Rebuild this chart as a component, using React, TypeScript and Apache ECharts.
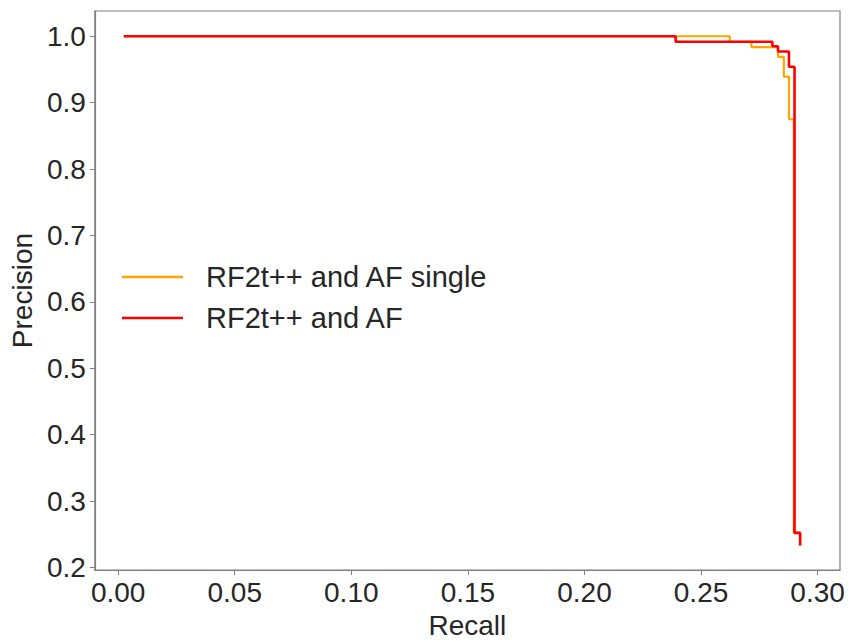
import React, { useEffect, useRef } from "react";
import * as echarts from "echarts";

// Step points (recall, precision); each point ends a horizontal run at the previous precision
const singleRecall = [0.0024, 0.2623, 0.2716, 0.283, 0.2855, 0.2877, 0.2898, 0.2925];
const singlePrecision = [1.0, 0.9917, 0.9837, 0.969, 0.9393, 0.875, 0.252, 0.233];

const combinedRecall = [0.0024, 0.2391, 0.2806, 0.283, 0.2877, 0.2901, 0.2925];
const combinedPrecision = [1.0, 0.9917, 0.985, 0.977, 0.954, 0.252, 0.233];

const xTicks = [0.0, 0.05, 0.1, 0.15, 0.2, 0.25, 0.3];
const yTicks = [0.2, 0.3, 0.4, 0.5, 0.6, 0.7, 0.8, 0.9, 1.0];

const seriesNames = ["RF2t++ and AF single", "RF2t++ and AF"];

const FONT = "'Liberation Sans', Arial, sans-serif";
const TEXT = "#262626";
const AXIS = "#808080";

export default function App() {
  const ref = useRef<HTMLDivElement>(null);

  useEffect(() => {
    if (!ref.current) return;
    const chart = echarts.init(ref.current, undefined, { renderer: "svg" });

    const pairs = (xs: number[], ys: number[]) => xs.map((x, i) => [x, ys[i]]);

    const axisCommon = {
      axisLine: { show: true, onZero: false, lineStyle: { color: AXIS, width: 1.2 } },
      axisTick: { show: true, length: 5, lineStyle: { color: AXIS, width: 1 } },
      splitLine: { show: false },
      nameTextStyle: { color: TEXT, fontSize: 28, fontFamily: FONT },
    };

    chart.setOption({
      animation: false,
      backgroundColor: "#ffffff",
      grid: { left: 91, right: 10, top: 11, bottom: 64, show: true, borderColor: AXIS, borderWidth: 1.2 },
      legend: {
        orient: "vertical",
        left: 117,
        top: 257,
        icon: "rect",
        itemWidth: 61,
        itemHeight: 2.5,
        itemGap: 11,
        data: seriesNames,
        textStyle: {
          color: TEXT,
          fontSize: 29,
          lineHeight: 30,
          fontFamily: FONT,
          padding: [0, 0, 0, 18],
        },
      },
      xAxis: {
        type: "value",
        min: -0.01,
        max: 0.3096,
        name: "Recall",
        nameLocation: "middle",
        nameGap: 35,
        ...axisCommon,
        axisLabel: {
          color: TEXT,
          fontSize: 28,
          fontFamily: FONT,
          margin: 8,
          customValues: xTicks,
          formatter: (v: number) => v.toFixed(2),
        },
        axisTick: { ...axisCommon.axisTick, customValues: xTicks },
      },
      yAxis: {
        type: "value",
        min: 0.196,
        max: 1.038,
        name: "Precision",
        nameLocation: "middle",
        nameGap: 46,
        ...axisCommon,
        axisLabel: {
          color: TEXT,
          fontSize: 28,
          fontFamily: FONT,
          margin: 9,
          customValues: yTicks,
          formatter: (v: number) => v.toFixed(1),
        },
        axisTick: { ...axisCommon.axisTick, customValues: yTicks },
      },
      series: [
        {
          name: seriesNames[0],
          type: "line",
          step: "end",
          showSymbol: false,
          data: pairs(singleRecall, singlePrecision),
          lineStyle: { color: "#FFA500", width: 2.2 },
          itemStyle: { color: "#FFA500" },
          z: 2,
        },
        {
          name: seriesNames[1],
          type: "line",
          step: "end",
          showSymbol: false,
          data: pairs(combinedRecall, combinedPrecision),
          lineStyle: { color: "#FF0000", width: 2.6 },
          itemStyle: { color: "#FF0000" },
          z: 3,
        },
      ],
    });

    return () => chart.dispose();
  }, []);

  return <div ref={ref} style={{ width: 850, height: 644, position: "absolute", left: 0, top: 0 }} />;
}
